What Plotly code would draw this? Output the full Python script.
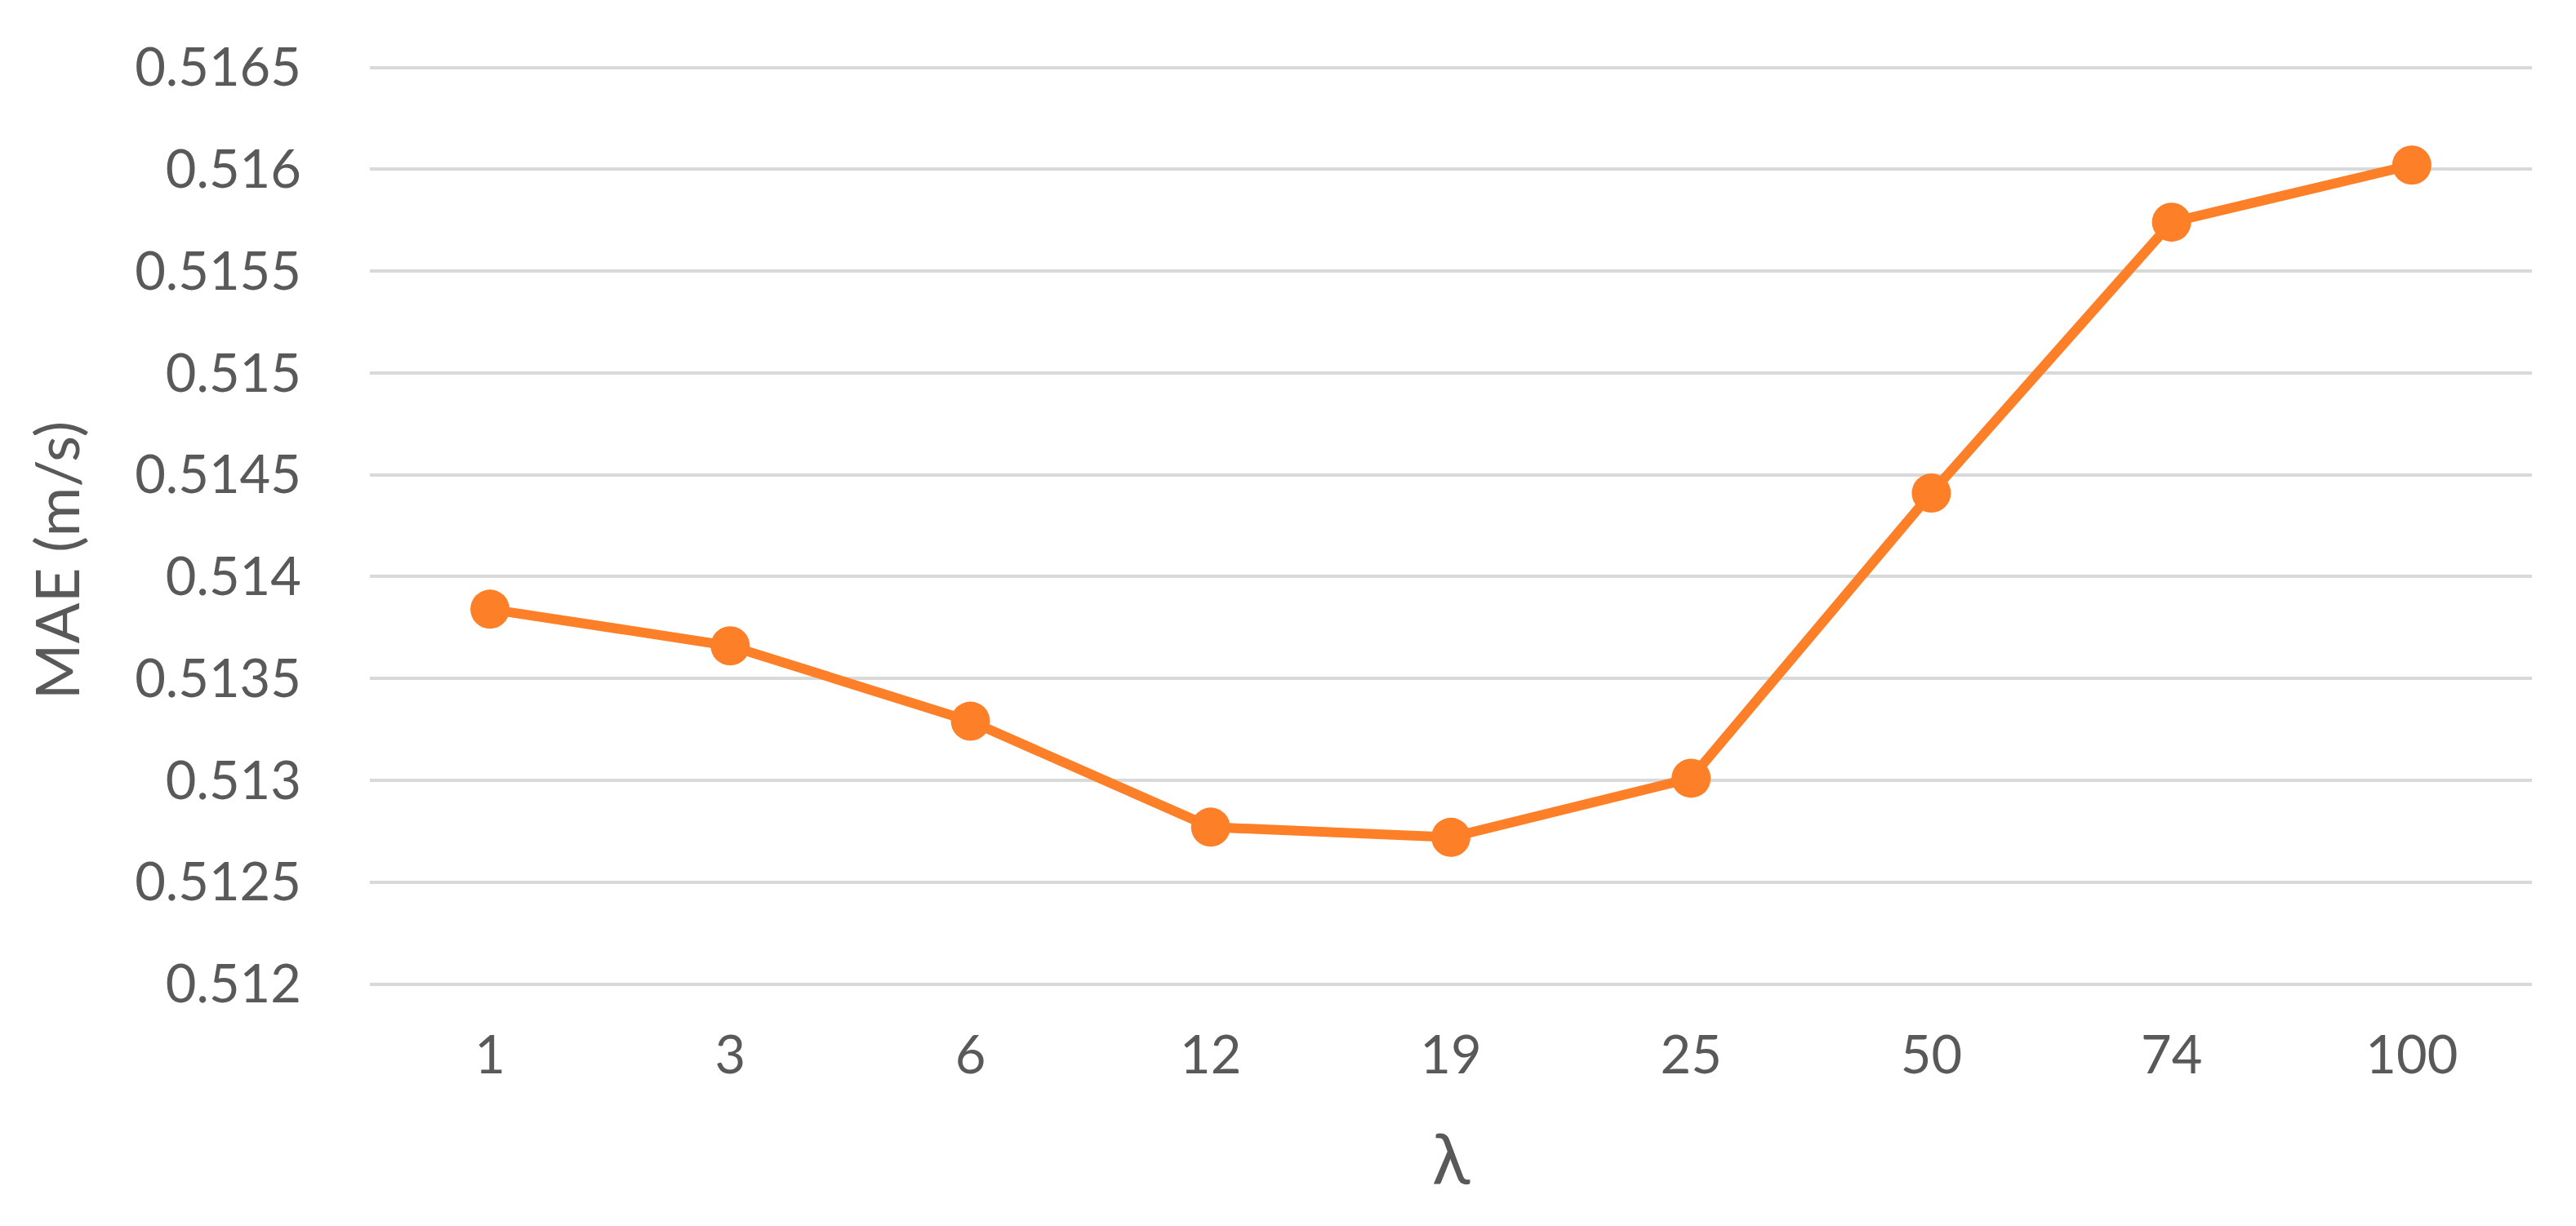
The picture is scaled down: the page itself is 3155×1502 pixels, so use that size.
import plotly.graph_objects as go


# ==========================================================
# DATA
# ==========================================================

lambda_labels = ["1", "3", "6", "12", "19", "25", "50", "74", "100"]

mae_values = [
    0.51384, 0.51366, 0.51329, 0.51277, 0.51272,
    0.51301, 0.51441, 0.51574, 0.51602
]

y_ticks = [0.512, 0.5125, 0.513, 0.5135, 0.514, 0.5145,
           0.515, 0.5155, 0.516, 0.5165]
y_tick_labels = ["0.512", "0.5125", "0.513", "0.5135", "0.514", "0.5145",
                 "0.515", "0.5155", "0.516", "0.5165"]


# ==========================================================
# STYLE
# ==========================================================

ORANGE = "#FD7F28"
TEXT = "#595959"
GRID = "#D9D9D9"
FONT = "Lato, 'Open Sans', sans-serif"


# ==========================================================
# FIGURE
# ==========================================================

fig = go.Figure(
    go.Scatter(
        x=lambda_labels,
        y=mae_values,
        mode="lines+markers",
        line=dict(color=ORANGE, width=12),
        marker=dict(color=ORANGE, size=48),
        cliponaxis=False,
        showlegend=False
    )
)

# pad the range a hair so the end gridlines are still drawn
fig.update_layout(
    width=3155,
    height=1502,
    template="plotly_white",
    plot_bgcolor="white",
    paper_bgcolor="white",
    font=dict(family=FONT, color=TEXT, size=65),
    margin=dict(l=445, r=62, t=72, b=302),
    annotations=[
        dict(
            text="MAE (m/s)",
            xref="paper", yref="paper",
            x=-0.1454, y=0.4626,
            xanchor="center", yanchor="middle",
            textangle=-90,
            showarrow=False,
            font=dict(size=74, color=TEXT, family=FONT)
        ),
        dict(
            text="λ",
            xref="paper", yref="paper",
            x=0.5, y=-0.185,
            xanchor="center", yanchor="middle",
            showarrow=False,
            font=dict(size=86, color=TEXT, family=FONT)
        )
    ]
)

fig.update_xaxes(
    type="category",
    categoryorder="array",
    categoryarray=lambda_labels,
    range=[-0.5, len(lambda_labels) - 0.5],
    showgrid=False,
    showline=False,
    zeroline=False,
    ticks="outside",
    ticklen=28,
    tickcolor="rgba(0,0,0,0)",
    tickfont=dict(size=65, color=TEXT, family=FONT)
)

fig.update_yaxes(
    range=[0.51199, 0.51651],
    tickvals=y_ticks,
    ticktext=y_tick_labels,
    showgrid=True,
    gridcolor=GRID,
    gridwidth=4,
    showline=False,
    zeroline=False,
    ticks="outside",
    ticklen=70,
    tickcolor="rgba(0,0,0,0)",
    tickfont=dict(size=65, color=TEXT, family=FONT)
)

fig.write_html("out.html")
